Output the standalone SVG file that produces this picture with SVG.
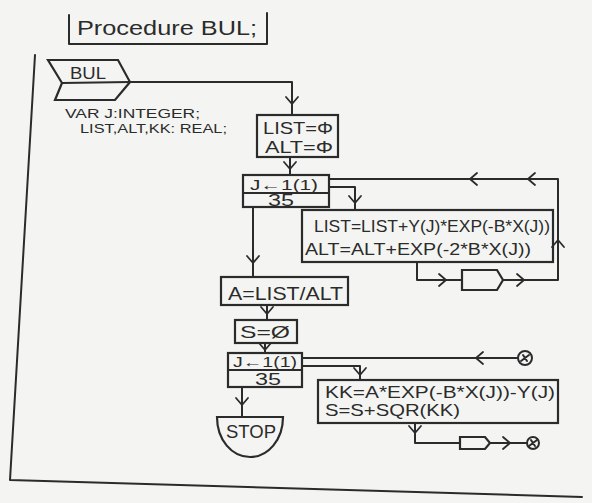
<svg xmlns="http://www.w3.org/2000/svg" xmlns:xlink="http://www.w3.org/1999/xlink" width="592" height="503" viewBox="0 0 592 503">
<style>
.ln{fill:none;stroke:#2b2b2b;stroke-width:2;stroke-linejoin:round;stroke-linecap:round}
.bx{fill:none;stroke:#2b2b2b;stroke-width:2.2}
.t{font-family:"Liberation Sans",Arial,sans-serif;fill:#2b2b2b;font-weight:normal}
.ah{fill:none;stroke:#2b2b2b;stroke-width:1.8;stroke-linecap:round;stroke-linejoin:round}
</style>
<defs>
<path id="ah" class="ah" d="M-7,-6 L0,0 L-7,6"/>
</defs>
<rect width="592" height="503" fill="#f4f5f2"/>

<g id="frame">
<path class="ln" d="M35,55 L10,480 L582,497"/>
</g>

<g id="title">
<path class="ln" d="M69,15 L69,44 L267,44 L267,13"/>
<text class="t" x="77" y="35" font-size="20" textLength="180" lengthAdjust="spacingAndGlyphs">Procedure BUL;</text>
</g>

<g id="start">
<path class="bx" d="M48,60 L118,60 L130,82 L115,100 L55,100 L62,83 Z"/>
<path class="ln" d="M62,83 L130,82"/>
<text class="t" x="70" y="79" font-size="17" textLength="36" lengthAdjust="spacingAndGlyphs">BUL</text>
<text class="t" x="65" y="118" font-size="13" textLength="135" lengthAdjust="spacingAndGlyphs">VAR J:INTEGER;</text>
<text class="t" x="80" y="133" font-size="13" textLength="147" lengthAdjust="spacingAndGlyphs">LIST,ALT,KK: REAL;</text>
</g>

<g id="init1">
<rect class="bx" x="257" y="115" width="81" height="42"/>
<text class="t" x="263" y="134" font-size="17" textLength="70" lengthAdjust="spacingAndGlyphs">LIST=Φ</text>
<text class="t" x="265" y="153" font-size="17" textLength="68" lengthAdjust="spacingAndGlyphs">ALT=Φ</text>
</g>

<g id="loop1">
<rect class="bx" x="243" y="175" width="86" height="32"/>
<path class="ln" d="M243,193 L329,193"/>
<text class="t" x="250" y="190" font-size="15" textLength="68" lengthAdjust="spacingAndGlyphs">J←1(1)</text>
<text class="t" x="268" y="206" font-size="16" textLength="26" lengthAdjust="spacingAndGlyphs">35</text>
</g>

<g id="body1">
<rect class="bx" x="302" y="210" width="251" height="52"/>
<text class="t" x="314" y="232" font-size="17" textLength="236" lengthAdjust="spacingAndGlyphs">LIST=LIST+Y(J)*EXP(-B*X(J))</text>
<text class="t" x="305" y="255" font-size="17" textLength="226" lengthAdjust="spacingAndGlyphs">ALT=ALT+EXP(-2*B*X(J))</text>
</g>

<g id="next1">
<path class="bx" d="M462,270 L497,270 L503,280 L497,290 L462,290 Z"/>
</g>

<g id="calcA">
<rect class="bx" x="221" y="277" width="127" height="28"/>
<text class="t" x="228" y="300" font-size="18" textLength="115" lengthAdjust="spacingAndGlyphs">A=LIST/ALT</text>
</g>

<g id="init2">
<rect class="bx" x="235" y="320" width="62" height="23"/>
<text class="t" x="240" y="338" font-size="17" textLength="50" lengthAdjust="spacingAndGlyphs">S=Ø</text>
</g>

<g id="loop2">
<rect class="bx" x="228" y="353" width="74" height="34"/>
<path class="ln" d="M228,370 L302,370"/>
<text class="t" x="233" y="367" font-size="14" textLength="64" lengthAdjust="spacingAndGlyphs">J←1(1)</text>
<text class="t" x="255" y="385" font-size="16" textLength="26" lengthAdjust="spacingAndGlyphs">35</text>
</g>

<g id="body2">
<rect class="bx" x="318" y="380" width="240" height="43"/>
<text class="t" x="325" y="398" font-size="17" textLength="230" lengthAdjust="spacingAndGlyphs">KK=A*EXP(-B*X(J))-Y(J)</text>
<text class="t" x="325" y="416" font-size="17" textLength="135" lengthAdjust="spacingAndGlyphs">S=S+SQR(KK)</text>
</g>

<g id="next2">
<path class="bx" d="M460,437 L485,437 L490,443 L485,449 L460,449 Z"/>
</g>

<g id="conn1">
<circle class="ln" cx="525" cy="358" r="7"/>
<path class="ln" d="M521,361 L529,355 M523,355 L527,361" stroke-width="1.3"/>
</g>

<g id="conn2">
<circle class="ln" cx="533" cy="443" r="6"/>
<path class="ln" d="M529,446 L537,440 M531,440 L535,446" stroke-width="1.3"/>
</g>

<g id="stop">
<path class="bx" d="M217,417 L283,417 C283,440 268,457 250,457 C232,457 217,440 217,417 Z"/>
<text class="t" x="226" y="438" font-size="18" textLength="50" lengthAdjust="spacingAndGlyphs">STOP</text>
</g>

<g id="connectors">
<path class="ln" d="M130,82 L292,82 L292,115"/>
<path class="ln" d="M290,157 L290,175"/>
<path class="ln" d="M329,179 L558,179 L558,280 L503,280"/>
<path class="ln" d="M329,187 L355,187 L355,210"/>
<path class="ln" d="M417,262 L417,280 L462,280"/>
<path class="ln" d="M253,207 L253,277"/>
<path class="ln" d="M267,305 L267,320"/>
<path class="ln" d="M265,343 L265,353"/>
<path class="ln" d="M242,387 L242,417"/>
<path class="ln" d="M302,358 L518,358"/>
<path class="ln" d="M302,366 L360,366 L360,380"/>
<path class="ln" d="M415,423 L415,443 L460,443"/>
<path class="ln" d="M490,443 L527,443"/>
<use xlink:href="#ah" transform="translate(292,104) rotate(90)"/>
<use xlink:href="#ah" transform="translate(290,169) rotate(90)"/>
<use xlink:href="#ah" transform="translate(470,179) rotate(180)"/>
<use xlink:href="#ah" transform="translate(528,179) rotate(180)"/>
<use xlink:href="#ah" transform="translate(558,240) rotate(-90)"/>
<use xlink:href="#ah" transform="translate(355,203) rotate(90)"/>
<use xlink:href="#ah" transform="translate(446,280)"/>
<use xlink:href="#ah" transform="translate(524,280)"/>
<use xlink:href="#ah" transform="translate(253,263) rotate(90)"/>
<use xlink:href="#ah" transform="translate(267,314) rotate(90)"/>
<use xlink:href="#ah" transform="translate(265,350) rotate(90)"/>
<use xlink:href="#ah" transform="translate(242,405) rotate(90)"/>
<use xlink:href="#ah" transform="translate(476,358) rotate(180)"/>
<use xlink:href="#ah" transform="translate(360,375) rotate(90)"/>
<use xlink:href="#ah" transform="translate(415,433) rotate(90)"/>
<use xlink:href="#ah" transform="translate(510,443)"/>
</g>
</svg>
